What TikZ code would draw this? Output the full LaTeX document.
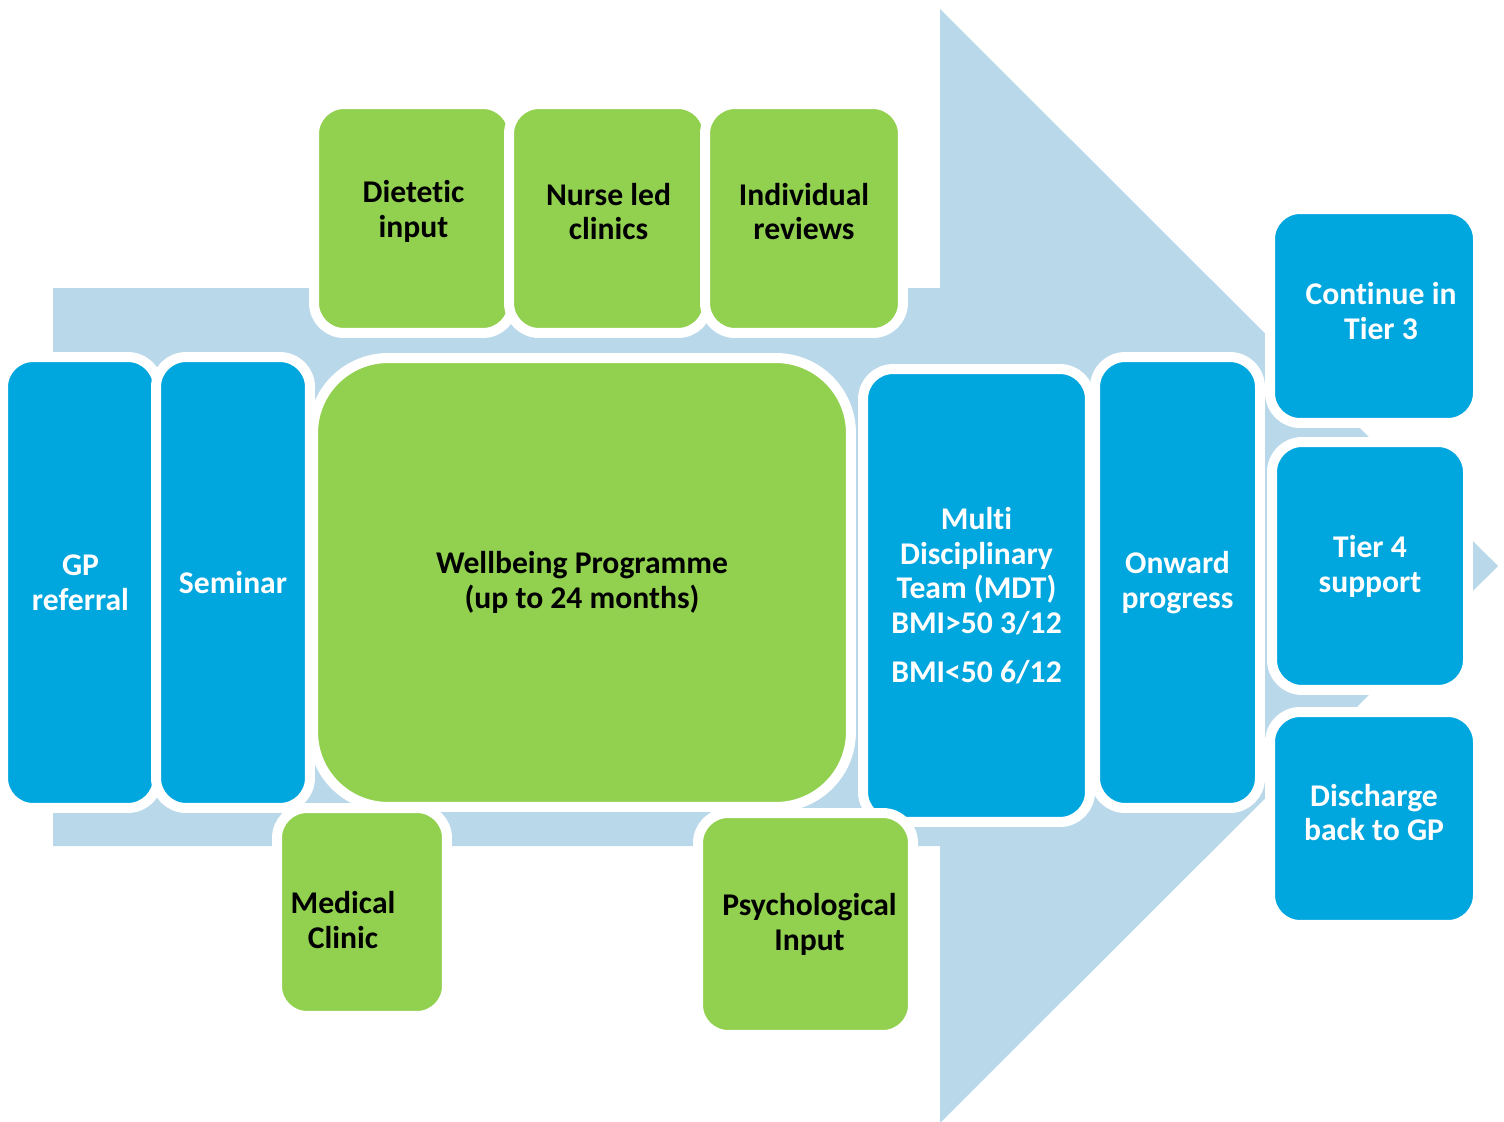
\documentclass[tikz,border=0pt]{standalone}
\usepackage{fontspec}
\setmainfont{Carlito}[Ligatures=NoCommon]
\usetikzlibrary{positioning}
\definecolor{boxblue}{RGB}{0,166,222}
\definecolor{leafgreen}{RGB}{146,208,80}
\definecolor{arrowblue}{RGB}{185,217,235}
\tikzset{
	boxtext/.style = {align=center, inner sep=0pt, font=\fontsize{18}{19.8}\selectfont\bfseries},
	pathwaynode/.style = {rounded corners=0.6cm, draw=white, line width=0.2cm, boxtext},
	stage/.style = {pathwaynode, fill=boxblue, text=white},
	support/.style = {pathwaynode, fill=leafgreen, text=black},
	stagelabel/.style = {boxtext, text=white},
	supportlabel/.style = {boxtext, text=black},
	bigarrow/.style = {fill=arrowblue}
}

\begin{document}
\begin{tikzpicture}[x=0.02cm, y=-0.02cm]
		\useasboundingbox (0,0) rectangle (1504,1122);
		%背景大箭头
		\fill [bigarrow] (53,288) -- (940,288) -- (940,9) -- (1498,566) -- (940,1123) -- (940,846) -- (53,846) -- cycle;

		%主流程
		\node (gp_referral) [stage, minimum width=3.1cm, minimum height=9.02cm] at (80.5,582.5) {GP\\referral};
		\node (seminar) [stage, minimum width=3.08cm, minimum height=9.02cm] at (233,582.5) {Seminar};
		\node (wellbeing) [support, rounded corners=1.5cm, minimum width=10.76cm, minimum height=8.98cm] at (582,582.5) {Wellbeing Programme\\(up to 24 months)};
		\node (mdt) [stage, minimum width=4.54cm, minimum height=9.06cm] at (976.5,595.5) {Multi\\Disciplinary\\Team (MDT)\\BMI>50 3/12\\[8pt]BMI<50 6/12};
		\node (onward) [stage, minimum width=3.3cm, minimum height=9.02cm] at (1177.5,582.5) {Onward\\progress};

		%上方支持
		\node (dietetic) [support, minimum width=3.98cm, minimum height=4.58cm,
			label={[supportlabel, yshift=0.14cm]center:Dietetic\\input}] at (413.5,218.5) {};
		\node (nurse_led) [support, minimum width=3.98cm, minimum height=4.58cm,
			label={[supportlabel, yshift=0.14cm]center:Nurse led\\clinics}] at (608.5,218.5) {};
		\node (reviews) [support, minimum width=3.96cm, minimum height=4.58cm,
			label={[supportlabel, yshift=0.14cm]center:Individual\\reviews}] at (804,218.5) {};

		%下方支持
		\node (medical) [support, minimum width=3.4cm, minimum height=4.16cm,
			label={[supportlabel, xshift=-0.38cm, yshift=-0.16cm]center:Medical\\Clinic}] at (362,912) {};
		\node (psychological) [support, minimum width=4.3cm, minimum height=4.44cm,
			label={[supportlabel, xshift=0.08cm]center:Psychological\\Input}] at (805.5,924) {};

		%结果
		\node (tier_three) [stage, minimum width=4.16cm, minimum height=4.28cm,
			label={[stagelabel, xshift=0.14cm, yshift=0.1cm]center:Continue in\\Tier 3}] at (1374,316) {};
		\node (tier_four) [stage, minimum width=3.92cm, minimum height=4.96cm] at (1370,566) {Tier 4\\support};
		\node (discharge) [stage, minimum width=4.16cm, minimum height=4.26cm,
			label={[stagelabel, yshift=0.12cm]center:Discharge\\back to GP}] at (1374,818.5) {};
\end{tikzpicture}
\end{document}
